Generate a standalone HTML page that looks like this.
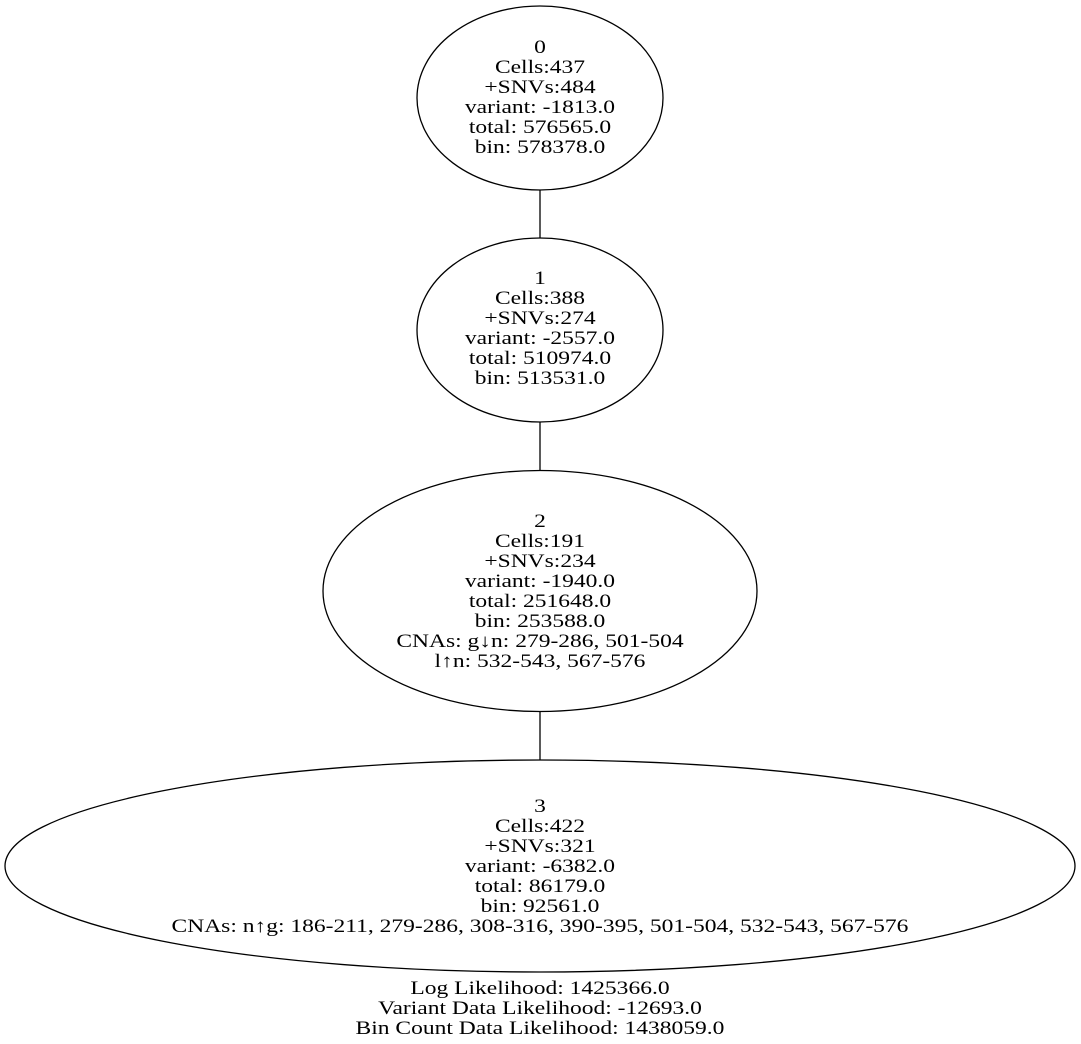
<!DOCTYPE html>
<html><head><meta charset="utf-8"><style>
html,body{margin:0;padding:0;background:#fff;}
svg{display:block;}
text{font-family:"Liberation Serif","DejaVu Serif",serif;font-size:18.67px;fill:#000;text-anchor:middle;}
</style></head><body>
<svg width="1081" height="1044" viewBox="0 0 1081 1044" xmlns="http://www.w3.org/2000/svg">
<rect width="1081" height="1044" fill="#fff"/>
<g fill="none" stroke="#000" stroke-width="1.3">
<ellipse cx="540" cy="98" rx="123" ry="92"/>
<ellipse cx="540" cy="330" rx="123" ry="92"/>
<ellipse cx="540" cy="591" rx="217" ry="120.5"/>
<ellipse cx="540" cy="866" rx="535" ry="106"/>
<line x1="540" y1="190" x2="540" y2="238"/>
<line x1="540" y1="422" x2="540" y2="471"/>
<line x1="540" y1="712" x2="540" y2="760"/>
</g>
<g transform="translate(540,0) scale(1.26,1) translate(-540,0)">
<text x="540" y="53">0</text>
<text x="540" y="73">Cells:437</text>
<text x="540" y="93">+SNVs:484</text>
<text x="540" y="113">variant: -1813.0</text>
<text x="540" y="133">total: 576565.0</text>
<text x="540" y="153">bin: 578378.0</text>

<text x="540" y="284">1</text>
<text x="540" y="304">Cells:388</text>
<text x="540" y="324">+SNVs:274</text>
<text x="540" y="344">variant: -2557.0</text>
<text x="540" y="364">total: 510974.0</text>
<text x="540" y="384">bin: 513531.0</text>

<text x="540" y="527">2</text>
<text x="540" y="547">Cells:191</text>
<text x="540" y="567">+SNVs:234</text>
<text x="540" y="587">variant: -1940.0</text>
<text x="540" y="607">total: 251648.0</text>
<text x="540" y="627">bin: 253588.0</text>
<text x="540" y="647">CNAs: g↓n: 279-286, 501-504</text>
<text x="540" y="667">l↑n: 532-543, 567-576</text>

<text x="540" y="812">3</text>
<text x="540" y="832">Cells:422</text>
<text x="540" y="852">+SNVs:321</text>
<text x="540" y="872">variant: -6382.0</text>
<text x="540" y="892">total: 86179.0</text>
<text x="540" y="912">bin: 92561.0</text>
<text x="540" y="932">CNAs: n↑g: 186-211, 279-286, 308-316, 390-395, 501-504, 532-543, 567-576</text>

<text x="540" y="994">Log Likelihood: 1425366.0</text>
<text x="540" y="1014">Variant Data Likelihood: -12693.0</text>
<text x="540" y="1034">Bin Count Data Likelihood: 1438059.0</text>
</g>
</svg>
</body></html>
